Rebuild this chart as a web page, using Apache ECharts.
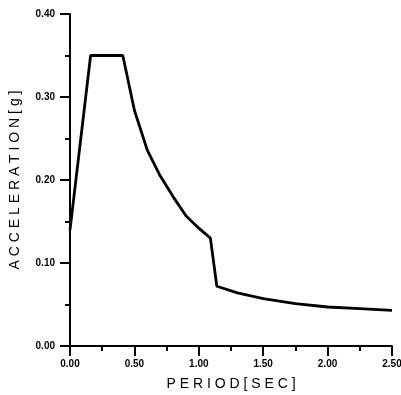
<!DOCTYPE html>
<html>
<head>
<meta charset="utf-8">
<script src="https://cdn.jsdelivr.net/npm/echarts@6/dist/echarts.min.js"></script>
<style>
  html, body { margin: 0; padding: 0; background: #fff; }
  #chart { width: 401px; height: 395px; }
</style>
</head>
<body>
<div id="chart"></div>
<script>
// period [sec] and spectral acceleration [g]
const periods = [0, 0.16, 0.41, 0.5, 0.6, 0.7, 0.8, 0.9, 1.0, 1.09, 1.14, 1.3, 1.5, 1.75, 2.0, 2.25, 2.5]
const accel = [0.14, 0.35, 0.35, 0.284, 0.236, 0.205, 0.18, 0.157, 0.142, 0.13, 0.072, 0.064, 0.057, 0.051, 0.047, 0.045, 0.043]

const xName = 'P E R I O D [ S E C ]'
const yName = 'A C C E L E R A T I O N [ g ]'

const myChart = echarts.init(document.getElementById('chart'))

const labelStyle = {
  color: '#000',
  fontFamily: 'Liberation Sans',
  fontWeight: 'bold',
  fontSize: 10,
  formatter: (v) => v.toFixed(2),
}
const nameStyle = { color: '#000', fontFamily: 'Liberation Sans', fontSize: 14 }
const tickStyle = { color: '#000', width: 2 }

const option = {
  animation: false,
  grid: { left: 70, right: 9, top: 14, bottom: 49, outerBoundsMode: 'none' },
  xAxis: {
    type: 'value',
    min: 0,
    max: 2.5,
    interval: 0.5,
    name: xName,
    nameLocation: 'middle',
    nameGap: 31,
    nameTextStyle: nameStyle,
    axisLine: { lineStyle: { color: '#000', width: 2 } },
    axisTick: { length: 10, lineStyle: tickStyle },
    minorTick: { show: true, splitNumber: 2, length: 5, lineStyle: tickStyle },
    splitLine: { show: false },
    axisLabel: { ...labelStyle, margin: 13 },
  },
  yAxis: {
    type: 'value',
    min: 0,
    max: 0.4,
    interval: 0.1,
    name: yName,
    nameLocation: 'middle',
    nameGap: 48,
    nameTextStyle: nameStyle,
    axisLine: { show: true, lineStyle: { color: '#000', width: 2 } },
    axisTick: { show: true, length: 10, lineStyle: tickStyle },
    minorTick: { show: true, splitNumber: 2, length: 5, lineStyle: tickStyle },
    splitLine: { show: false },
    axisLabel: { ...labelStyle, margin: 15 },
  },
  series: [
    {
      type: 'line',
      data: periods.map((t, i) => [t, accel[i]]),
      showSymbol: false,
      lineStyle: { color: '#000', width: 2.8 },
    },
  ],
}

myChart.setOption(option)
</script>
</body>
</html>
